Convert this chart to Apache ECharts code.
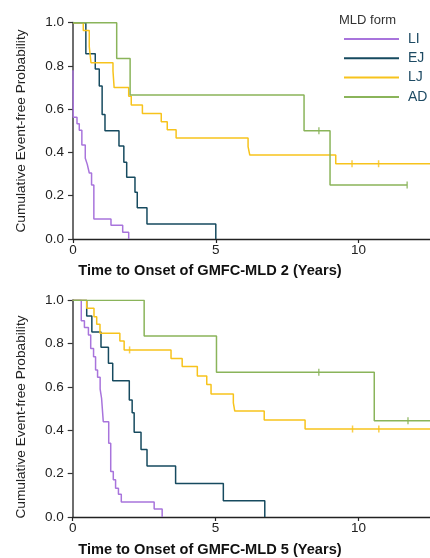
<!DOCTYPE html>
<html>
<head>
<meta charset="utf-8">
<script src="https://cdn.jsdelivr.net/npm/echarts@6/dist/echarts.min.js"></script>
<style>html,body{margin:0;padding:0;background:#fff;}#c{width:430px;height:558px;}</style>
</head>
<body>
<div id="c"></div>
<script>
// ---------- data (Kaplan-Meier step points: time in years, survival after step) ----------
const groups = ['LI', 'EJ', 'LJ', 'AD'];
const xTicks = [0, 5, 10];
const yTicks = [0.0, 0.2, 0.4, 0.6, 0.8, 1.0];

// Panel 1: GMFC-MLD 2
const LI2_t = [0, 0.01, 0.14, 0.22, 0.31, 0.43, 0.50, 0.57, 0.65, 0.73, 1.33, 1.74, 1.95];
const LI2_s = [0.78, 0.563, 0.533, 0.503, 0.435, 0.373, 0.345, 0.305, 0.25, 0.092, 0.063, 0.031, 0];
const EJ2_t = [0, 0.45, 0.78, 0.92, 1.02, 1.12, 1.61, 1.78, 1.88, 2.17, 2.25, 2.59, 5.0];
const EJ2_s = [1, 0.857, 0.786, 0.707, 0.576, 0.5, 0.43, 0.355, 0.285, 0.216, 0.145, 0.069, 0];
const LJ2_t = [0, 0.36, 0.57, 0.63, 1.40, 1.44, 1.95, 2.04, 2.43, 3.09, 3.30, 3.61, 6.13, 6.19, 9.2, 12.5];
const LJ2_s = [1, 0.964, 0.889, 0.815, 0.777, 0.70, 0.66, 0.619, 0.58, 0.542, 0.505, 0.467, 0.427, 0.388, 0.348, 0.348];
const LJ2_cens = [9.77, 10.7];
const AD2_t = [0, 1.53, 2.0, 8.09, 9.0, 11.7];
const AD2_s = [1, 0.835, 0.666, 0.5, 0.25, 0.25];
const AD2_cens = [8.61, 11.7];

// Panel 2: GMFC-MLD 5
const LI5_t = [0, 0.30, 0.41, 0.55, 0.63, 0.73, 0.80, 0.87, 0.96, 1.01, 1.07, 1.26, 1.33, 1.42, 1.50, 1.60, 1.70, 2.85, 3.13];
const LI5_s = [1, 0.906, 0.875, 0.84, 0.778, 0.74, 0.678, 0.645, 0.59, 0.548, 0.44, 0.34, 0.21, 0.172, 0.133, 0.105, 0.069, 0.037, 0];
const EJ5_t = [0, 0.49, 0.67, 0.99, 1.25, 1.40, 1.98, 2.08, 2.15, 2.39, 2.60, 3.60, 5.27, 6.72];
const EJ5_s = [1, 0.928, 0.854, 0.783, 0.709, 0.629, 0.54, 0.481, 0.391, 0.312, 0.235, 0.155, 0.075, 0];
const LJ5_t = [0, 0.49, 0.745, 0.84, 0.955, 1.65, 1.80, 3.44, 3.83, 4.36, 4.69, 4.84, 5.62, 5.67, 6.70, 8.13, 12.5];
const LJ5_s = [1, 0.963, 0.924, 0.889, 0.848, 0.812, 0.771, 0.732, 0.694, 0.651, 0.612, 0.568, 0.527, 0.489, 0.448, 0.406, 0.406];
const LJ5_cens = [1.99, 9.79, 10.71];
const AD5_t = [0, 2.5, 5.03, 10.55, 12.5];
const AD5_s = [1, 0.835, 0.668, 0.444, 0.444];
const AD5_cens = [8.61, 11.73];

const titles = ['Time to Onset of GMFC-MLD 2 (Years)', 'Time to Onset of GMFC-MLD 5 (Years)'];
const yTitle = 'Cumulative Event-free Probability';
const legendTitle = 'MLD form';

// ---------- styling ----------
const colors = {LI: '#a874dc', EJ: '#164a5f', LJ: '#f7c31c', AD: '#8ab45a'};
const FONT = 'Liberation Sans, Arial, sans-serif';

function pairs(ts, ss) { return ts.map((t, i) => [t, ss[i]]); }
function valueAt(ts, ss, t) {
  let v = ss[0];
  for (let i = 0; i < ts.length; i++) if (ts[i] <= t) v = ss[i];
  return v;
}
function lineSeries(name, ts, ss, idx) {
  return {
    type: 'line', name: name, step: 'end', xAxisIndex: idx, yAxisIndex: idx,
    data: pairs(ts, ss), showSymbol: false, symbol: 'none', color: colors[name],
    lineStyle: {width: 1.5, color: colors[name]}, silent: true, z: 3
  };
}
function censSeries(name, ts, ss, cens, idx) {
  return {
    type: 'scatter', name: name + ' censored', xAxisIndex: idx, yAxisIndex: idx,
    data: cens.map(t => [t, valueAt(ts, ss, t)]),
    symbol: 'rect', symbolSize: [1.5, 7], itemStyle: {color: colors[name]}, silent: true, z: 4
  };
}

const grids = [
  {left: 73, top: 22.7, width: 357.5, height: 216.3},
  {left: 72.7, top: 300.3, width: 357.8, height: 216.7}
];

function xAxis(idx) {
  return {
    type: 'value', gridIndex: idx, min: 0, max: 12.5, interval: 5,
    axisLine: {show: true, lineStyle: {color: '#222', width: 1.3}},
    axisTick: {show: true, length: 4, lineStyle: {color: '#222', width: 1.2}},
    axisLabel: {color: '#222', fontSize: 13.5, fontFamily: FONT, margin: 4, showMaxLabel: false,
      formatter: v => xTicks.indexOf(v) >= 0 ? String(v) : ''},
    splitLine: {show: false}
  };
}
function yAxis(idx) {
  return {
    type: 'value', gridIndex: idx, min: 0, max: 1, interval: 0.2,
    axisLine: {show: true, lineStyle: {color: '#6e6e6e', width: 2}},
    axisTick: {show: true, length: 5, lineStyle: {color: '#333', width: 1.2}},
    axisLabel: {color: '#222', fontSize: 13.5, fontFamily: FONT, margin: 9,
      formatter: v => yTicks.find(y => Math.abs(y - v) < 1e-9).toFixed(1)},
    splitLine: {show: false}
  };
}

const series = [
  lineSeries('LI', LI2_t, LI2_s, 0),
  lineSeries('EJ', EJ2_t, EJ2_s, 0),
  lineSeries('LJ', LJ2_t, LJ2_s, 0),
  lineSeries('AD', AD2_t, AD2_s, 0),
  censSeries('LJ', LJ2_t, LJ2_s, LJ2_cens, 0),
  censSeries('AD', AD2_t, AD2_s, AD2_cens, 0),
  lineSeries('LI', LI5_t, LI5_s, 1),
  lineSeries('EJ', EJ5_t, EJ5_s, 1),
  lineSeries('LJ', LJ5_t, LJ5_s, 1),
  lineSeries('AD', AD5_t, AD5_s, 1),
  censSeries('LJ', LJ5_t, LJ5_s, LJ5_cens, 1),
  censSeries('AD', AD5_t, AD5_s, AD5_cens, 1)
];

const chart = echarts.init(document.getElementById('c'), null, {renderer: 'canvas'});
chart.setOption({
  animation: false,
  backgroundColor: '#fff',
  grid: grids,
  xAxis: [xAxis(0), xAxis(1)],
  yAxis: [yAxis(0), yAxis(1)],
  legend: {
    data: groups, orient: 'vertical', left: 339, top: 27,
    icon: 'rect', itemWidth: 55, itemHeight: 2, itemGap: 5.3,
    selectedMode: false,
    textStyle: {color: '#1d4a63', fontSize: 14, fontFamily: FONT, lineHeight: 14, padding: [0, 0, 0, 4]}
  },
  graphic: [
    {type: 'text', left: 339, top: 14, style: {text: legendTitle, fill: '#333', font: '13px ' + FONT}},
    {type: 'text', x: 210, y: 271, style: {text: titles[0], fill: '#111', font: 'bold 14.6px ' + FONT, textAlign: 'center', textVerticalAlign: 'middle'}},
    {type: 'text', x: 210, y: 550, style: {text: titles[1], fill: '#111', font: 'bold 14.6px ' + FONT, textAlign: 'center', textVerticalAlign: 'middle'}},
    {type: 'text', x: 21, y: 131, rotation: Math.PI / 2, style: {text: yTitle, fill: '#222', font: '13.7px ' + FONT, textAlign: 'center', textVerticalAlign: 'middle'}},
    {type: 'text', x: 21, y: 417, rotation: Math.PI / 2, style: {text: yTitle, fill: '#222', font: '13.7px ' + FONT, textAlign: 'center', textVerticalAlign: 'middle'}}
  ],
  series: series
});
</script>
</body>
</html>
